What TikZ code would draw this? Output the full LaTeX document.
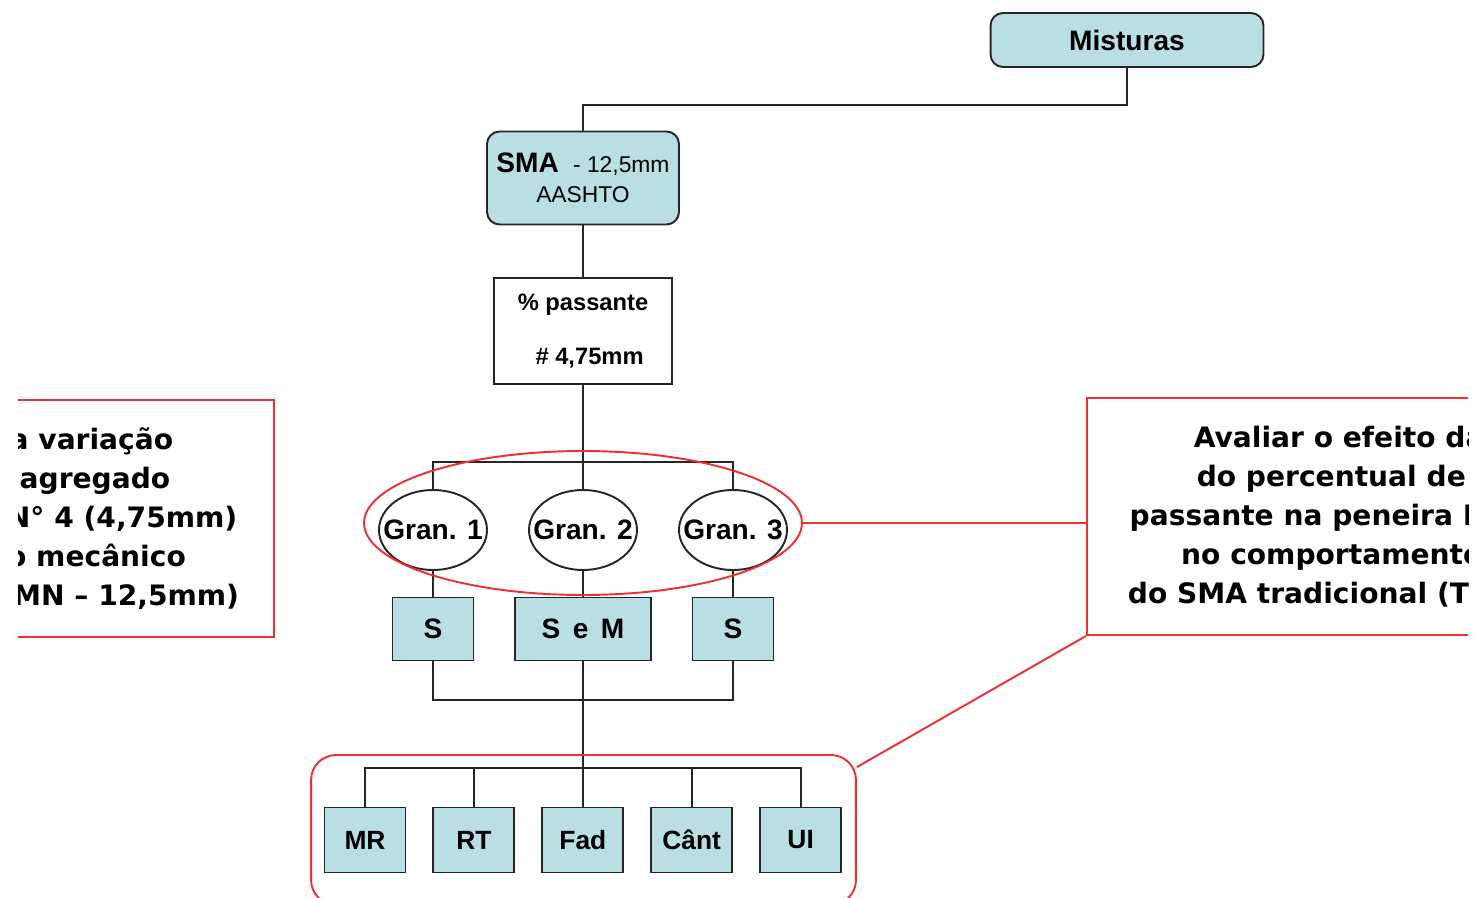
\documentclass[tikz,border=0pt]{standalone}
\usepackage{fontspec}
\setmainfont{Liberation Sans}
\newfontfamily\notafont{DejaVu Sans}
\usetikzlibrary{positioning,calc,shapes.geometric}
\definecolor{caixa}{RGB}{185,223,227}
\definecolor{verm}{RGB}{238,48,48}

\begin{document}
\begin{tikzpicture}[x=0.02cm, y=-0.02cm, node distance=0.52cm,
  liga/.style={line width=1.1pt, draw=black!85},
  main box/.style={rectangle, draw=black!85, line width=1.1pt, fill=caixa, font=\bfseries\fontsize{16}{19}\selectfont},
  top box/.style={main box, rounded corners=0.25cm},
  gran/.style={ellipse, draw=black!85, line width=1.1pt, fill=white, minimum width=2.16cm, minimum height=1.6cm, inner sep=0pt, font=\bfseries\fontsize{16}{19}\selectfont},
  ensaio/.style={main box, minimum width=1.62cm, minimum height=1.30cm, inner sep=0pt, font=\bfseries\fontsize{15}{18}\selectfont},
  destaque/.style={draw=verm, line width=1.1pt},
  nota/.style={destaque, rectangle, align=center, minimum height=4.74cm, inner ysep=0pt, font=\notafont\bfseries\fontsize{16}{22.2}\selectfont}]

  \fill[white] (0,0) rectangle (1477,898);
  \useasboundingbox (0,0) rectangle (1477,898);

  % arvore principal
  \node[top box, minimum width=5.46cm, minimum height=1.08cm] (mist) at (1127,40) {Misturas};
  \node[top box, minimum width=3.84cm, minimum height=1.86cm, align=center, inner sep=0pt] (sma) at (583,178)
    {SMA {\mdseries\fontsize{13}{15}\selectfont\ - 12,5mm}\\[-2pt] {\mdseries\fontsize{13}{15}\selectfont AASHTO}};
  \node[main box, fill=white, minimum width=3.56cm, minimum height=2.12cm, align=center, inner sep=0pt,
    font=\bfseries\fontsize{13.5}{31}\selectfont] (pass) at (583,331) {\% passante\\\ \ \# 4,75mm};

  \node[gran] (g1) at (433,530) {\makebox[0pt]{Gran. 1}};
  \node[gran] (g2) at (583,530) {\makebox[0pt]{Gran. 2}};
  \node[gran] (g3) at (733,530) {\makebox[0pt]{Gran. 3}};

  \node[main box, minimum width=1.62cm, minimum height=1.26cm, inner sep=0pt] (s1) at (433,629) {S};
  \node[main box, minimum width=2.72cm, minimum height=1.26cm, inner sep=0pt] (sem) at (583,629) {S\,\ e\,\ M};
  \node[main box, minimum width=1.62cm, minimum height=1.26cm, inner sep=0pt] (s3) at (733,629) {S};

  \node[ensaio] (mr) at (365,840) {MR};
  \node[ensaio, right=of mr] (rt) {RT};
  \node[ensaio, right=of rt] (fad) {Fad};
  \node[ensaio, right=of fad] (cant) {Cânt};
  \node[ensaio, right=of cant] (ui) {UI};

  \draw[liga] (mist.south) -- ++(0,37) -| (sma.north);
  \draw[liga] (sma) -- (pass);
  \draw[liga] (pass) -- (g2);
  \draw[liga] (g1.north) -- ++(0,-27) -| (g3.north);
  \draw[liga] (g1) -- (s1);
  \draw[liga] (g2) -- (sem);
  \draw[liga] (g3) -- (s3);
  \draw[liga] (s1.south) -- ++(0,39) -| (s3.south);
  \draw[liga] (sem.south) -- (sem.south |- fad.north);
  \draw[liga] (mr.north) -- ++(0,-39) -| (ui.north);
  \draw[liga] (rt.north) -- ++(0,-39);
  \draw[liga] (cant.north) -- ++(0,-39);

  % destaques em vermelho
  \node[destaque, ellipse, minimum width=8.76cm, minimum height=2.88cm] (grp) at (583,523) {};
  \node[destaque, rectangle, rounded corners=0.5cm, minimum width=10.9cm, minimum height=3.0cm] (ens) at (583.5,830) {};

  \begin{scope}
    \clip (18,0) rectangle (1468,898);
    \node[nota, anchor=west, inner xsep=0.82cm] (notadir) at (1086,516.5)
      {\raisebox{-3pt}{}Avaliar o efeito da variação\\do percentual de agregado\\passante na peneira N° 4 (4,75mm)\\no comportamento mecânico\\do SMA tradicional (TMN – 12,5mm)};
    \node[nota, anchor=east, inner xsep=0.7cm] (notaesq) at (275,518.5)
      {Avaliar o efeito da variação\\do percentual de agregado\\passante na peneira N° 4 (4,75mm)\\no comportamento mecânico\\do SMA tradicional (TMN – 12,5mm)};
  \end{scope}

  \draw[destaque] (grp.east) -- (grp.east -| notadir.west);
  \draw[destaque] ($(ens.north east)+(0,13)$) -- (notadir.south west);
\end{tikzpicture}
\end{document}
